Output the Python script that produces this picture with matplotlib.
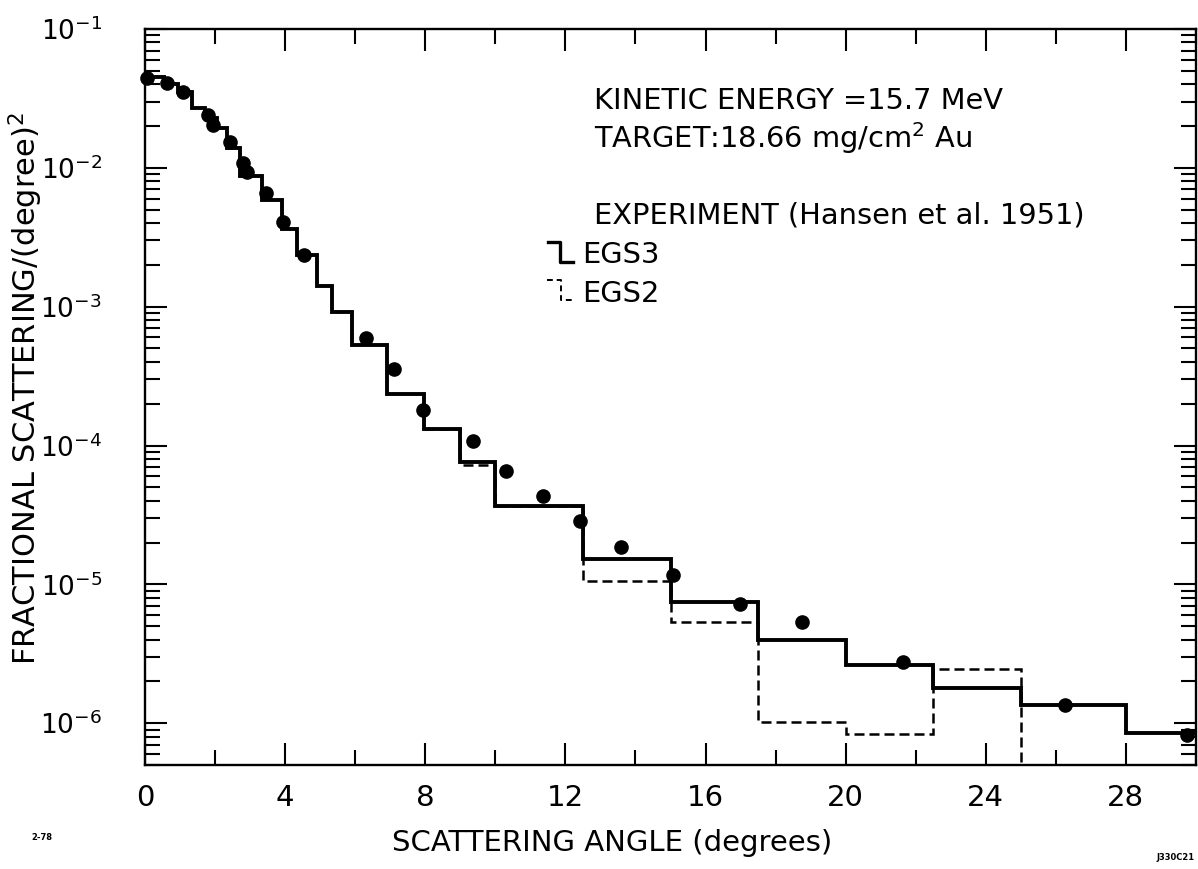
import numpy as np
import matplotlib.pyplot as plt
from matplotlib.lines import Line2D
from matplotlib.ticker import MultipleLocator, LogLocator, NullFormatter

# EGS3 histogram (bin edges in degrees, fractional scattering per degree^2)
egs3_edges = [0, 0.55, 0.95, 1.35, 1.7, 2.05, 2.35, 2.7, 3.35, 3.9, 4.35, 4.9, 5.35,
              5.9, 6.9, 7.95, 9, 10, 12.5, 15, 17.5, 20, 22.5, 25, 28, 30]
egs3_vals = [0.045, 0.040, 0.0353, 0.0272, 0.023, 0.0195, 0.014, 0.0087, 0.0059,
             0.0036, 0.00234, 0.00142, 9.1e-4, 5.27e-4, 2.34e-4, 1.31e-4, 7.58e-5,
             3.66e-5, 1.52e-5, 7.46e-6, 3.97e-6, 2.63e-6, 1.79e-6, 1.35e-6, 8.5e-7]

# EGS2 histogram (only the part that separates from EGS3)
egs2_edges = [7.95, 9, 10, 12.5, 15, 17.5, 20, 22.5, 25, 30]
egs2_vals = [1.31e-4, 7.2e-5, 3.66e-5, 1.06e-5, 5.36e-6, 1.02e-6, 8.4e-7, 2.46e-6, 0.0]

# Hansen et al. 1951 measurements
exp_angle = [0.06, 0.63, 1.08, 1.8, 1.95, 2.43, 2.8, 2.92, 3.45, 3.94, 4.55, 6.3,
             7.1, 7.93, 9.36, 10.3, 11.36, 12.41, 13.6, 15.06, 16.98, 18.74, 21.65,
             26.25, 29.73]
exp_frac = [0.0447, 0.0411, 0.0354, 0.0241, 0.0205, 0.0154, 0.0109, 0.0094, 0.00664,
            0.0041, 0.00235, 5.9e-4, 3.55e-4, 1.79e-4, 1.08e-4, 6.6e-5, 4.31e-5,
            2.85e-5, 1.85e-5, 1.17e-5, 7.2e-6, 5.36e-6, 2.76e-6, 1.35e-6, 8.2e-7]

W, H = 1198, 869


def fx(px):
    return px / W


def fy(py):
    return 1 - py / H


fig = plt.figure(figsize=(W / 100, H / 100), dpi=100)
ax = fig.add_axes([fx(145), fy(765), (1196 - 145) / W, (765 - 29) / H])

ax.stairs(egs3_vals, egs3_edges, baseline=None, color='black', lw=2.8)
ax.stairs(np.clip(egs2_vals, 1e-9, None), egs2_edges, baseline=None,
          color='black', lw=1.8, linestyle=(0, (4, 2)))
ax.plot(exp_angle, exp_frac, 'o', color='black', ms=9.5, clip_on=False, zorder=5)

ax.set_yscale('log')
ax.set_xlim(0, 30)
ax.set_ylim(5e-7, 1e-1)

ax.xaxis.set_major_locator(MultipleLocator(4))
ax.xaxis.set_minor_locator(MultipleLocator(2))
ax.yaxis.set_major_locator(LogLocator(base=10, numticks=10))
ax.yaxis.set_minor_locator(LogLocator(base=10, subs=np.arange(2, 10), numticks=20))
ax.yaxis.set_minor_formatter(NullFormatter())

ax.tick_params(which='both', direction='in', top=True, right=True, width=1.5)
ax.tick_params(which='major', length=16)
ax.tick_params(which='minor', length=11)
ax.tick_params(axis='x', which='major', pad=14, labelsize=21)
ax.tick_params(axis='y', which='major', pad=31, labelsize=19)
for s in ax.spines.values():
    s.set_linewidth(1.7)

# annotation block
fs = 20.8
fig.text(fx(594), fy(109), 'KINETIC ENERGY =15.7 MeV', fontsize=fs, va='baseline')
fig.text(fx(594), fy(148), 'TARGET:18.66 mg/cm$^2$ Au', fontsize=fs, va='baseline')
fig.text(fx(594), fy(223), 'EXPERIMENT (Hansen et al. 1951)', fontsize=fs, va='baseline')
fig.text(fx(582), fy(263), 'EGS3', fontsize=fs, va='baseline')
fig.text(fx(582), fy(302), 'EGS2', fontsize=fs, va='baseline')

# legend step symbols
fig.add_artist(Line2D([fx(548), fx(560), fx(560), fx(573)],
                      [fy(242), fy(242), fy(262), fy(262)],
                      color='black', lw=2.4, transform=fig.transFigure))
fig.add_artist(Line2D([fx(547), fx(561), fx(561), fx(575)],
                      [fy(280), fy(280), fy(300), fy(300)],
                      color='black', lw=1.4, linestyle=(0, (3, 2)),
                      transform=fig.transFigure))

fig.text(fx(612), fy(843), 'SCATTERING ANGLE (degrees)', fontsize=21,
         ha='center', va='center')
fig.text(fx(26), fy(388), 'FRACTIONAL SCATTERING/(degree)$^2$', fontsize=22,
         rotation=90, ha='center', va='center')

fig.text(fx(42), fy(840), '2-78', fontsize=6, fontweight='bold', ha='center')
fig.text(fx(1176), fy(860), 'J330C21', fontsize=6, fontweight='bold', ha='center')

fig.savefig('out.png', dpi=100)
